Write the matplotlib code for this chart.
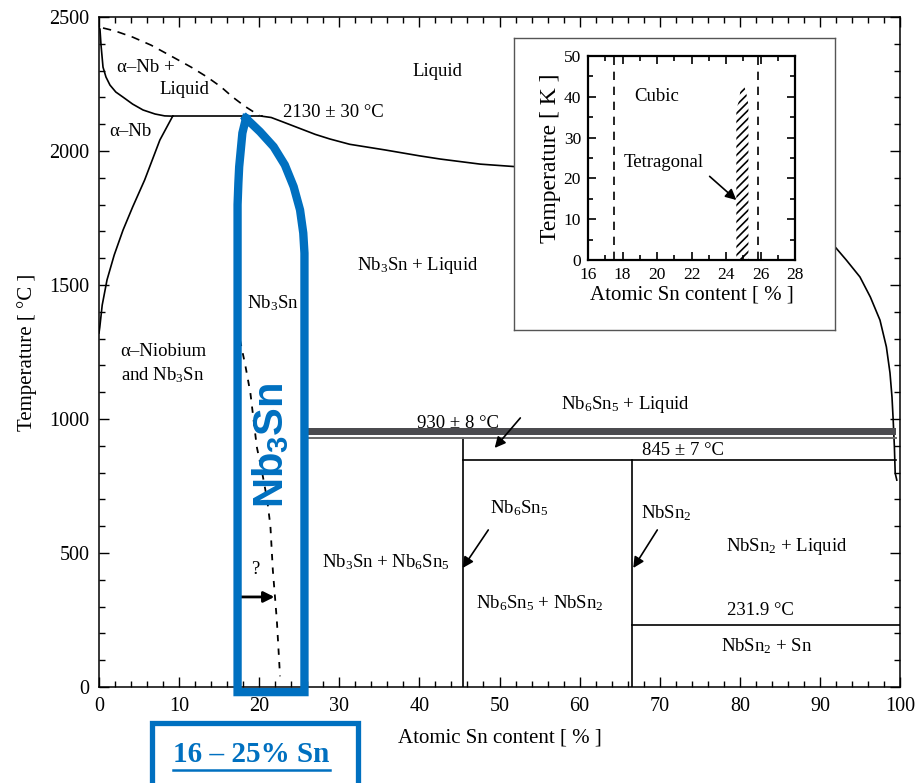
import matplotlib
matplotlib.use('Agg')
import matplotlib.pyplot as plt
from matplotlib.patches import Rectangle, Polygon
from matplotlib.lines import Line2D
from matplotlib.ticker import MultipleLocator

plt.rcParams['font.family'] = ['Liberation Serif', 'DejaVu Serif']
plt.rcParams['mathtext.fontset'] = 'custom'
plt.rcParams['mathtext.rm'] = 'Liberation Serif'
plt.rcParams['mathtext.it'] = 'Liberation Serif:italic'
plt.rcParams['hatch.linewidth'] = 1.2

BLUE = '#0070C0'

# ---------------- data ----------------
liq_left_x = [0, 0.12, 0.25, 0.5, 0.87, 1.37, 2.1, 3.0, 4.2, 5.5, 7.0, 8.2, 9.2]
liq_left_T = [2460, 2455, 2396, 2313, 2276, 2246, 2220, 2201, 2175, 2153, 2138, 2131, 2130]
peritectic_x = [9.2, 20.3]
peritectic_T = [2130, 2130]
liq_right_x = [20.3, 21.5, 23, 25, 27, 28.8, 31.3, 35.7, 40, 42.6, 47.6, 51.8, 56, 60, 70, 80, 86, 90,
               91.9, 93.3, 95.0, 96.3, 97.5, 98.3, 98.75, 99.0, 99.15, 99.3, 99.4, 99.6]
liq_right_T = [2130, 2125, 2108, 2085, 2062, 2045, 2025, 2004, 1982, 1970, 1951, 1942, 1935, 1925, 1890, 1830, 1770, 1690,
               1642, 1593, 1530, 1455, 1369, 1269, 1172, 1082, 996, 896, 798, 772]
solvus_x = [9.2, 7.6, 5.7, 4.2, 3.0, 1.9, 1.0, 0.4, 0.1, 0]
solvus_T = [2130, 2041, 1892, 1791, 1705, 1612, 1519, 1425, 1343, 1321]
meta_x = [0.5, 2, 4.2, 6.5, 9.2, 11.5, 13.5, 15.2, 16.7, 18.2, 19.5, 20.0]
meta_T = [2459, 2448, 2425, 2395, 2351, 2313, 2276, 2240, 2201, 2167, 2142, 2132]
nb3sn_dash_x = [17.6, 18.3, 18.9, 19.7, 20.4, 21.0, 21.4, 21.7, 22.2, 22.6]
nb3sn_dash_T = [1295, 1195, 1097, 896, 795, 698, 600, 437, 250, 40]

band_x = [25.6, 99.5]
band_lo, band_hi = 940, 966
line930_x = [25.6, 99.5]
line930_T = 930
line845_x = [45.4, 99.5]
line845_T = 847
line232_x = [66.6, 100]
line232_T = 231.9
vert_nb6sn5_x = 45.4
vert_nbsn2_x = 66.6

# highlight outline (annotation)
hl_x = [18.35, 17.9, 17.7, 17.5, 17.4, 17.3, 17.3, 25.65, 25.65, 25.5, 25.1, 24.3, 23.2, 21.8, 20.1, 18.35]
hl_T = [2122, 2067, 2004, 1941, 1880, 1800, -19, -19, 1619, 1694, 1780, 1867, 1948, 2016, 2072, 2122]

# inset
ins_dash1 = 17.5
ins_dash2 = 25.85
tet_x = [24.6, 25.3, 25.3, 25.15, 25.0, 24.85, 24.75, 24.6]
tet_T = [0, 0, 38, 41.5, 43, 42, 39, 37]

# ---------------- figure ----------------
fig = plt.figure(figsize=(9.23, 7.83), dpi=100)
ax = fig.add_axes([99/923, 1-687/783, 801/923, 670/783])
ax.set_xlim(0, 100)
ax.set_ylim(0, 2500)
ax.xaxis.set_major_locator(MultipleLocator(10))
ax.xaxis.set_minor_locator(MultipleLocator(2))
ax.yaxis.set_major_locator(MultipleLocator(500))
ax.yaxis.set_minor_locator(MultipleLocator(100))
ax.tick_params(which='both', direction='in', top=True, right=True, width=1.0)
ax.tick_params(which='major', length=7, labelsize=14.5, pad=7)
ax.tick_params(which='minor', length=4)
for s in ax.spines.values():
    s.set_linewidth(1.1)
ax.set_xlabel('Atomic Sn content [ % ]', fontsize=15, labelpad=9)
ax.set_ylabel('Temperature [ °C ]', fontsize=15, labelpad=9)

lk = dict(color='black', lw=1.2, zorder=3)
ax.plot(liq_left_x, liq_left_T, **lk)
ax.plot(peritectic_x, peritectic_T, **lk)
ax.plot(liq_right_x, liq_right_T, **lk)
ax.plot(solvus_x, solvus_T, **lk)
ax.plot(meta_x, meta_T, color='black', lw=1.2, dashes=(5, 4), zorder=3)
ax.plot(nb3sn_dash_x, nb3sn_dash_T, color='black', lw=1.3, dashes=(3.5, 4), zorder=3)

ax.fill_between(band_x, band_lo, band_hi, color='#4b4b4f', lw=0, zorder=5)
ax.plot(line930_x, [line930_T]*2, color='#6a6a6a', lw=1.4, zorder=5)
ax.plot(line845_x, [line845_T]*2, **lk)
ax.plot(line232_x, [line232_T]*2, **lk)
ax.plot([vert_nb6sn5_x]*2, [0, line930_T], **lk)
ax.plot([vert_nbsn2_x]*2, [0, line845_T], **lk)

fs = 13.5
def T(x, y, s, **kw):
    d = dict(fontsize=fs, ha='center', va='center', zorder=4)
    d.update(kw)
    ax.text(x, y, s, **d)

T(5.9, 2310, 'α–Nb +')
T(10.6, 2228, 'Liquid')
T(3.9, 2071, 'α–Nb')
T(42.2, 2295, 'Liquid')
T(29.2, 2145, '2130 ± 30 °C')
T(39.8, 1571, r'Nb$_\mathregular{3}$Sn + Liquid')
T(21.7, 1433, r'Nb$_\mathregular{3}$Sn')
T(2.7, 1250, 'α–Niobium', ha='left')
T(2.7, 1164, r'and Nb$_\mathregular{3}$Sn', ha='left')
T(44.8, 985, '930 ± 8 °C', zorder=4)
T(65.7, 1055, r'Nb$_\mathregular{6}$Sn$_\mathregular{5}$ + Liquid')
T(72.9, 884, '845 ± 7 °C')
T(52.4, 668, r'Nb$_\mathregular{6}$Sn$_\mathregular{5}$')
T(35.8, 466, r'Nb$_\mathregular{3}$Sn + Nb$_\mathregular{6}$Sn$_\mathregular{5}$')
T(55.0, 313, r'Nb$_\mathregular{6}$Sn$_\mathregular{5}$ + NbSn$_\mathregular{2}$')
T(70.8, 649, r'NbSn$_\mathregular{2}$')
T(85.9, 526, r'NbSn$_\mathregular{2}$ + Liquid')
T(82.6, 287, '231.9 °C')
T(83.3, 153, r'NbSn$_\mathregular{2}$ + Sn')
T(19.5, 437, '?')

ap = dict(arrowstyle='-|>', color='black', lw=1.2, mutation_scale=16, shrinkA=0, shrinkB=0)
ax.annotate('', xy=(49.4, 892), xytext=(52.6, 1004), arrowprops=ap, zorder=6)
ax.annotate('', xy=(45.4, 444), xytext=(48.6, 586), arrowprops=ap, zorder=4)
ax.annotate('', xy=(66.7, 444), xytext=(69.7, 586), arrowprops=ap, zorder=4)
ax.annotate('', xy=(21.9, 336), xytext=(17.4, 336),
            arrowprops=dict(arrowstyle='-|>', color='black', lw=2.0, mutation_scale=16,
                            shrinkA=0, shrinkB=0), zorder=4)

# blue highlight
ax.plot(hl_x, hl_T, color=BLUE, lw=6, solid_joinstyle='miter', clip_on=False, zorder=8)
ax.text(21.55, 903, r'Nb$_\mathregular{3}$Sn', rotation=90, fontsize=30, fontweight='bold',
        family='Liberation Sans', color=BLUE, ha='center', va='center', zorder=8)

# bottom range box
fig.patches.append(Rectangle((152/923, -0.05), 206/923, 0.05 + (783-723)/783,
                             transform=fig.transFigure, fill=False, edgecolor=BLUE, lw=3.8))
fig.text(251/923, 1-755/783, '16 – 25% Sn', fontsize=21, fontweight='bold', color=BLUE,
         ha='center', va='center')
fig.lines.append(Line2D([173/923, 330/923], [1-770/783]*2, transform=fig.transFigure,
                        color=BLUE, lw=1.8))

# ---------------- inset ----------------
fr = fig.add_axes([514/923, 1-330/783, 321/923, 292/783])
fr.set_xticks([]); fr.set_yticks([])
fr.set_facecolor('white')
for s in fr.spines.values():
    s.set_edgecolor('#555555'); s.set_linewidth(1.0)

ins = fig.add_axes([588/923, 1-260/783, 207/923, 204/783])
ins.set_xlim(16, 28)
ins.set_ylim(0, 50)
ins.xaxis.set_major_locator(MultipleLocator(2))
ins.xaxis.set_minor_locator(MultipleLocator(1))
ins.yaxis.set_major_locator(MultipleLocator(10))
ins.yaxis.set_minor_locator(MultipleLocator(5))
ins.tick_params(which='both', direction='in', top=True, right=True, width=1.2)
ins.tick_params(which='major', length=6, labelsize=12.5, pad=5)
ins.tick_params(which='minor', length=3.5)
for s in ins.spines.values():
    s.set_linewidth(1.6)
ins.set_xlabel('Atomic Sn content [ % ]', fontsize=15, labelpad=2)
ins.set_ylabel('Temperature [ K ]', fontsize=17, labelpad=2)
ins.axvline(ins_dash1, color='black', lw=1.2, dashes=(5, 4))
ins.axvline(ins_dash2, color='black', lw=1.2, dashes=(5, 4))
ins.add_patch(Polygon(list(zip(tet_x, tet_T)), closed=True, facecolor='none',
                      edgecolor='black', hatch='////', lw=0))
ins.text(20.0, 40, 'Cubic', fontsize=13.5, ha='center', va='center')
ins.text(20.4, 24, 'Tetragonal', fontsize=13.5, ha='center', va='center')
ins.annotate('', xy=(24.6, 14.7), xytext=(23.05, 20.5), arrowprops=ap)

fig.savefig('out.png', dpi=100)
